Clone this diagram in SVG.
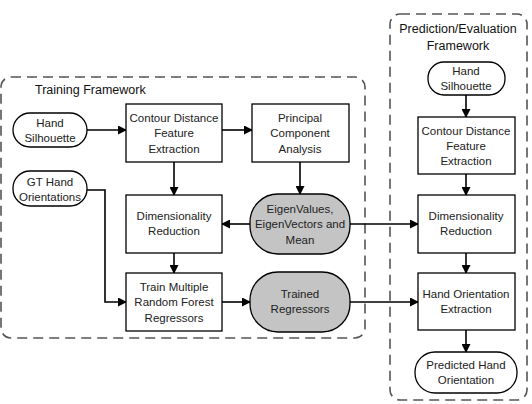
<svg xmlns="http://www.w3.org/2000/svg" width="532" height="404" viewBox="0 0 532 404">
<defs>
<marker id="ah" markerWidth="9" markerHeight="9" refX="8" refY="4.5" orient="auto" markerUnits="userSpaceOnUse">
<path d="M0,0 L9,4.5 L0,9 Z" fill="#000"/>
</marker>
<style>
.frame{fill:none;stroke:#555;stroke-width:1.6;stroke-dasharray:10 6}
.box{fill:#fff;stroke:#000;stroke-width:1.3}
.term{fill:#fff;stroke:#000;stroke-width:1.3}
.data{fill:#c4c4c4;stroke:#000;stroke-width:1.3}
.t{font-family:"Liberation Sans",Arial,sans-serif;font-size:11.5px;fill:#222;text-anchor:middle}
.title{font-family:"Liberation Sans",Arial,sans-serif;font-size:12.5px;fill:#111}
.c{fill:none;stroke:#000;stroke-width:1.6;marker-end:url(#ah)}
</style>
</defs>
<rect width="532" height="404" fill="#fff"/>
<g id="training-framework">
<rect class="frame" x="1" y="77" width="364" height="261" rx="10"/>
<text class="title" x="35" y="94">Training Framework</text>
</g>
<g id="prediction-framework">
<rect class="frame" x="390" y="14" width="137" height="386" rx="10"/>
<text class="title" x="458" y="33" text-anchor="middle">Prediction/Evaluation</text>
<text class="title" x="458" y="50" text-anchor="middle">Framework</text>
</g>
<g id="connectors">
<path class="c" d="M87,130 H126"/>
<path class="c" d="M222,130 H252"/>
<path class="c" d="M174,162 V195"/>
<path class="c" d="M300,162 V194"/>
<path class="c" d="M250,224 H222"/>
<path class="c" d="M350,224 H418"/>
<path class="c" d="M174,253 V273"/>
<path class="c" d="M87,190 H105 V302 H126"/>
<path class="c" d="M222,302 H250"/>
<path class="c" d="M350,302 H418"/>
<path class="c" d="M466,95 V117"/>
<path class="c" d="M466,174 V195"/>
<path class="c" d="M466,253 V273"/>
<path class="c" d="M466,330 V352"/>
</g>
<g id="hand-silhouette-train">
<rect class="term" x="13" y="113" width="74" height="34" rx="17"/>
<text class="t" x="50" y="127">Hand</text>
<text class="t" x="50" y="142">Silhouette</text>
</g>
<g id="gt-hand-orientations">
<rect class="term" x="13" y="171" width="74" height="35" rx="17"/>
<text class="t" x="50" y="186">GT Hand</text>
<text class="t" x="50" y="201">Orientations</text>
</g>
<g id="contour-train">
<rect class="box" x="126" y="104" width="96" height="58"/>
<text class="t" x="174" y="122">Contour Distance</text>
<text class="t" x="174" y="137">Feature</text>
<text class="t" x="174" y="153">Extraction</text>
</g>
<g id="pca">
<rect class="box" x="252" y="104" width="97" height="58"/>
<text class="t" x="300" y="122">Principal</text>
<text class="t" x="300" y="137">Component</text>
<text class="t" x="300" y="153">Analysis</text>
</g>
<g id="dimred-train">
<rect class="box" x="126" y="195" width="96" height="58"/>
<text class="t" x="174" y="220">Dimensionality</text>
<text class="t" x="174" y="235">Reduction</text>
</g>
<g id="eigen">
<rect class="data" x="250" y="194" width="100" height="60" rx="28"/>
<text class="t" x="300" y="213">EigenValues,</text>
<text class="t" x="300" y="228">EigenVectors and</text>
<text class="t" x="300" y="244">Mean</text>
</g>
<g id="train-rf">
<rect class="box" x="126" y="273" width="96" height="58"/>
<text class="t" x="174" y="291">Train Multiple</text>
<text class="t" x="174" y="306">Random Forest</text>
<text class="t" x="174" y="322">Regressors</text>
</g>
<g id="trained-regressors">
<rect class="data" x="250" y="272" width="100" height="60" rx="28"/>
<text class="t" x="300" y="298">Trained</text>
<text class="t" x="300" y="313">Regressors</text>
</g>
<g id="hand-silhouette-pred">
<rect class="term" x="428" y="62" width="77" height="33" rx="16"/>
<text class="t" x="466" y="75">Hand</text>
<text class="t" x="466" y="90">Silhouette</text>
</g>
<g id="contour-pred">
<rect class="box" x="418" y="117" width="97" height="57"/>
<text class="t" x="466" y="135">Contour Distance</text>
<text class="t" x="466" y="150">Feature</text>
<text class="t" x="466" y="165">Extraction</text>
</g>
<g id="dimred-pred">
<rect class="box" x="418" y="195" width="97" height="58"/>
<text class="t" x="466" y="220">Dimensionality</text>
<text class="t" x="466" y="235">Reduction</text>
</g>
<g id="hand-orientation-extraction">
<rect class="box" x="418" y="273" width="97" height="57"/>
<text class="t" x="466" y="298">Hand Orientation</text>
<text class="t" x="466" y="313">Extraction</text>
</g>
<g id="predicted-hand-orientation">
<rect class="term" x="415" y="352" width="102" height="41" rx="20"/>
<text class="t" x="466" y="369">Predicted Hand</text>
<text class="t" x="466" y="384">Orientation</text>
</g>
</svg>
